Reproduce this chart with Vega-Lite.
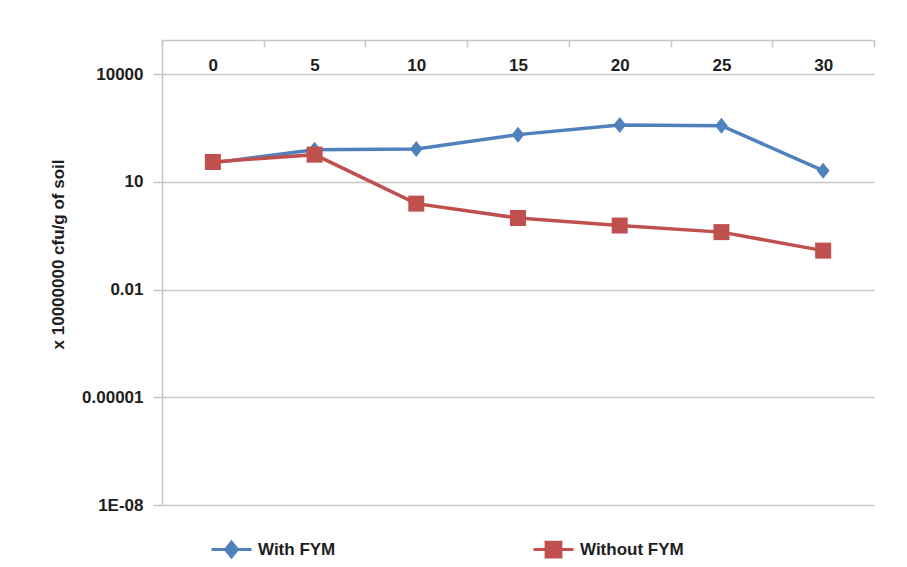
{
  "$schema": "https://vega.github.io/schema/vega-lite/v6.json",
  "width": 712,
  "height": 465,
  "autosize": {"type": "none"},
  "padding": {"left": 162, "top": 40, "right": 33, "bottom": 62},
  "background": "white",
  "config": {
    "view": {"stroke": null},
    "font": "Liberation Sans",
    "axis": {"labelFont": "Liberation Sans", "titleFont": "Liberation Sans"}
  },
  "data": {
    "values": [
      {"day": 0, "series": "With FYM", "value": 34},
      {"day": 5, "series": "With FYM", "value": 79},
      {"day": 10, "series": "With FYM", "value": 83},
      {"day": 15, "series": "With FYM", "value": 208},
      {"day": 20, "series": "With FYM", "value": 387},
      {"day": 25, "series": "With FYM", "value": 370},
      {"day": 30, "series": "With FYM", "value": 20.6},
      {"day": 0, "series": "Without FYM", "value": 36},
      {"day": 5, "series": "Without FYM", "value": 57.6},
      {"day": 10, "series": "Without FYM", "value": 2.49},
      {"day": 15, "series": "Without FYM", "value": 0.99},
      {"day": 20, "series": "Without FYM", "value": 0.61},
      {"day": 25, "series": "Without FYM", "value": 0.40},
      {"day": 30, "series": "Without FYM", "value": 0.122}
    ]
  },
  "encoding": {
    "x": {
      "field": "day",
      "type": "ordinal",
      "bandPosition": 0.5,
      "scale": {"type": "band", "paddingInner": 0, "paddingOuter": 0},
      "axis": {
        "orient": "bottom",
        "offset": -465,
        "title": null,
        "labelAngle": 0,
        "tickBand": "extent",
        "domainColor": "#C6C6C6",
        "domainWidth": 1.5,
        "tickColor": "#C6C6C6",
        "tickWidth": 1.5,
        "tickSize": 7,
        "labelPadding": 10,
        "labelFontSize": 17,
        "labelFontWeight": "bold",
        "labelColor": "#1E1E1E",
        "grid": false
      }
    },
    "y": {
      "field": "value",
      "type": "quantitative",
      "scale": {"type": "log", "domain": [1e-8, 90000], "nice": false},
      "axis": {
        "values": [1e-8, 1e-5, 0.01, 10, 10000],
        "labelExpr": "datum.value < 1e-6 ? '1E-08' : datum.value < 1e-4 ? '0.00001' : datum.value < 1 ? '0.01' : datum.value < 100 ? '10' : '10000'",
        "title": "x 10000000 cfu/g of soil",
        "titleFontSize": 17,
        "titleFontWeight": "bold",
        "titleColor": "#1E1E1E",
        "titleAngle": -90,
        "titleAlign": "center",
        "titleBaseline": "middle",
        "titleX": -104,
        "titleY": 214,
        "labelFontSize": 17,
        "labelFontWeight": "bold",
        "labelColor": "#1E1E1E",
        "labelPadding": 10,
        "tickSize": 9,
        "tickColor": "#C6C6C6",
        "tickWidth": 1.5,
        "domainColor": "#C6C6C6",
        "domainWidth": 1.5,
        "grid": true,
        "gridColor": "#C6C6C6",
        "gridWidth": 1.5
      }
    },
    "color": {
      "field": "series",
      "type": "nominal",
      "scale": {"domain": ["With FYM", "Without FYM"], "range": ["#4F81BD", "#C0504D"]},
      "legend": {
        "orient": "none",
        "legendX": 48,
        "legendY": 488,
        "direction": "horizontal",
        "title": null,
        "symbolSize": 1600,
        "symbolStrokeWidth": 3,
        "labelFontSize": 17,
        "labelFontWeight": "bold",
        "labelColor": "#1E1E1E",
        "labelFont": "Liberation Sans",
        "labelOffset": 5,
        "columnPadding": 191,
        "encode": {
          "symbols": {
            "update": {
              "shape": {"signal": "datum.value == 'With FYM' ? 'M-1,0H1M0,-0.37L0.3,0L0,0.37L-0.3,0Z' : 'M-1,0H1M-0.37,-0.37H0.37V0.37H-0.37Z'"},
              "fill": {"signal": "datum.value == 'With FYM' ? '#4F81BD' : '#C0504D'"},
              "stroke": {"signal": "datum.value == 'With FYM' ? '#4F81BD' : '#C0504D'"},
              "strokeWidth": {"value": 3},
              "size": {"value": 1600},
              "fillOpacity": {"value": 1},
              "strokeOpacity": {"value": 1}
            }
          }
        }
      }
    }
  },
  "layer": [
    {
      "mark": {"type": "line", "strokeWidth": 3.5}
    },
    {
      "transform": [{"filter": "datum.series == 'With FYM'"}],
      "mark": {"type": "point", "filled": true, "opacity": 1, "shape": "M0,-1L0.8,0L0,1L-0.8,0Z", "size": 256}
    },
    {
      "transform": [{"filter": "datum.series == 'Without FYM'"}],
      "mark": {"type": "point", "filled": true, "opacity": 1, "shape": "square", "size": 256}
    }
  ]
}
